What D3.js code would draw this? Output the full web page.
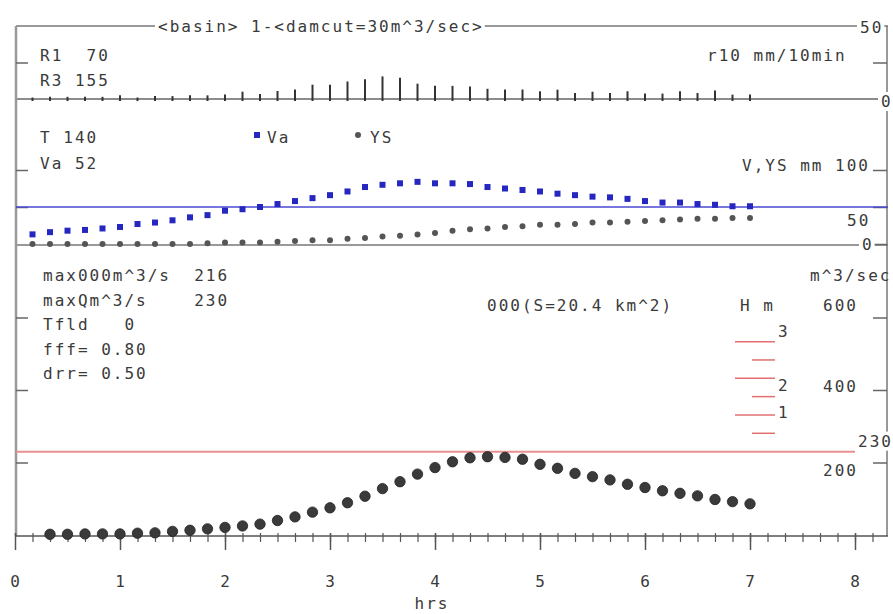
<!DOCTYPE html>
<html>
<head>
<meta charset="utf-8">
<script src="https://cdn.jsdelivr.net/npm/d3@7"></script>
<style>
  body { margin: 0; background: #fff; }
  svg text { font-family: "DejaVu Sans Mono", monospace; font-size: 16px; fill: #3a3a3a; letter-spacing: 2px; white-space: pre; }
</style>
</head>
<body>
<script>
// time steps (minutes from start), 10-min rain / Va / YS series
var minutes = [10,20,30,40,50,60,70,80,90,100,110,120,130,140,150,160,170,180,190,200,210,
               220,230,240,250,260,270,280,290,300,310,320,330,340,350,360,370,380,390,400,410,420];

// rainfall r10 mm/10min
var rain = [1.0,1.5,1.5,1.5,1.5,2.5,1.0,2.0,2.0,2.5,2.5,3.0,5.0,3.5,5.5,6.5,9.8,9.8,12.0,13.5,15.5,
            14.5,10.5,9.0,9.0,8.5,7.0,6.5,6.5,5.3,6.4,4.1,5.0,4.1,5.3,3.7,3.7,5.3,4.1,5.9,3.0,3.0];

// Va and YS (mm)
var va = [13,16,18,19,21,23,27,29,32,36,39,45,47,50,54,58,62,66,71,77,80,
          82,84,82,82,81,77,75,73,71,68,66,64,63,61,58,56,56,54,53,51,51];
var ys = [0,0,0,0,0,0,0,0,0,0,1,2,2,2,3,4,5,5,7,8,10,
          11,13,15,18,20,21,23,24,26,26,27,29,29,30,31,32,33,34,34,35,35];

// discharge Q m^3/sec (starts at 20 min)
var qMinutes = minutes.slice(1);
var discharge = [2,2,3,3,3,5,6,10,13,17,21,25,30,40,50,63,75,89,107,128,147,168,186,202,
                 213,216,214,209,195,184,170,161,152,140,131,122,115,108,98,92,86];

// axis ticks / labels
var hourTicks = [0,1,2,3,4,5,6,7,8];
var rainTicks = [0,25,50];
var vTicks = [0,50,100];
var qTicks = [200,400,600];
var hLevels = [0.5,1,1.5,2,2.5,3];
var hLabels = [1,2,3];
var qLimit = 230;
var vLine = 50;

var title = "<basin> 1-<damcut=30m^3/sec>";
var topNotes = ["R1  70", "R3 155"];
var midNotes = ["T 140", "Va 52"];
var lowNotes = ["max000m^3/s  216", "maxQm^3/s    230", "Tfld   0", "fff= 0.80", "drr= 0.50"];

var svgWidth = 893, svgHeight = 614;
var svg = d3.select("body").append("svg")
  .attr("width", svgWidth).attr("height", svgHeight);
svg.append("rect").attr("width", svgWidth).attr("height", svgHeight).attr("fill", "#fff");

var left = 16, right = 888;

// scales
var x = d3.scaleLinear().domain([0, 8]).range([15, 855]);
var yR = d3.scaleLinear().domain([0, 50]).range([99, 26]);
var yV = d3.scaleLinear().domain([0, 100]).range([244, 170]);
var yQ = d3.scaleLinear().domain([0, 800]).range([535, 245]);
var yH = d3.scaleLinear().domain([0, 3]).range([yQ(qLimit), yQ(qLimit) - 110]);

function hline(y, x1, x2, color, w) {
  svg.append("line").attr("x1", x1).attr("x2", x2).attr("y1", y).attr("y2", y)
    .attr("stroke", color).attr("stroke-width", w);
}
// text; halo = white box behind it so frame lines break around the text
function label(txt, xx, yy, anchor, halo) {
  var t = svg.append("text").attr("x", xx).attr("y", yy)
    .attr("text-anchor", anchor || "start").text(txt);
  if (halo) {
    var b = t.node().getBBox();
    svg.insert("rect", function() { return t.node(); })
      .attr("x", b.x - 3).attr("y", b.y).attr("width", b.width + 4).attr("height", b.height)
      .attr("fill", "#fff");
  }
  return t;
}

// frame
hline(26, left, right, "#777", 1.5);
hline(yR(0), left, right, "#666", 1.5);
hline(245, left, right, "#777", 1.5);
svg.append("line").attr("x1", left).attr("x2", left).attr("y1", 26).attr("y2", 536)
  .attr("stroke", "#999").attr("stroke-width", 2.5);
svg.append("line").attr("x1", 887).attr("x2", 887).attr("y1", 26).attr("y2", 536)
  .attr("stroke", "#777").attr("stroke-width", 1.5);

// right / left ticks
function sideTicks(scale, vals, side) {
  var ax = side == "right" ? d3.axisLeft(scale) : d3.axisRight(scale);
  ax.tickValues(vals).tickSize(side == "right" ? 14 : 12).tickFormat("");
  var g = svg.append("g").attr("transform", "translate(" + (side == "right" ? 887 : left) + ",0)").call(ax);
  g.select(".domain").remove();
  g.selectAll("line").attr("stroke", "#666").attr("stroke-width", 1.5);
}
sideTicks(yR, [25], "right");
sideTicks(yR, [25], "left");
sideTicks(yV, vTicks, "right");
sideTicks(yV, [50, 100], "left");
sideTicks(yQ, qTicks, "right");
sideTicks(yQ, qTicks, "left");

// reference lines
hline(yV(vLine), left, right, "#4848d0", 1.5);
hline(yQ(qLimit), left, 855, "#e89090", 2);

// title and right labels
label(title, 158, 32, "start", true);
label(String(rainTicks[2]), 860, 33, "start", true);
label(String(rainTicks[0]), 881, 107, "start", true);
label("r10 mm/10min", 707, 61);
label("V,YS mm " + vTicks[2], 742, 171);
label(String(vTicks[1]), 847, 226);
label(String(vTicks[0]), 862, 250, "start", true);
label("m^3/sec", 810, 281);
var qDy = [13.5, 2, -6.5];
qTicks.forEach(function(v, i) { label(String(v), 823, yQ(v) + qDy[i]); });
label(String(qLimit), 858, yQ(qLimit) - 5, "start", true);

// notes
topNotes.forEach(function(s, i) { label(s, 40, 61 + i * 25); });
midNotes.forEach(function(s, i) { label(s, 40, 143 + i * 26); });
lowNotes.forEach(function(s, i) { label(s, 43, 281 + i * 24.5); });
label("000(S=20.4 km^2)", 487, 311);
label("H m", 740, 311);

// legend
svg.append("rect").attr("x", 254).attr("y", 132).attr("width", 6).attr("height", 6).attr("fill", "#2626c0");
label("Va", 267, 143);
svg.append("circle").attr("cx", 358).attr("cy", 135).attr("r", 3).attr("fill", "#555");
label("YS", 370, 143);

// H gauge marks
hLevels.forEach(function(h) {
  var whole = h % 1 == 0;
  hline(yH(h), whole ? 735 : 752, 775, "#e07070", 1.5);
});
var hDy = [3.5, 13, -5];
hLabels.forEach(function(h, i) { label(String(h), 778, yH(h) + hDy[i]); });

// x axis
hline(536, left, right, "#555", 1.5);
var minorTicks = d3.range(1, 50).map(function(i) { return i / 6; }).filter(function(v) { return v <= 8.3; });
var gMinor = svg.append("g").attr("transform", "translate(0,533)")
  .call(d3.axisBottom(x).tickValues(minorTicks).tickSize(9).tickFormat(""));
gMinor.select(".domain").remove();
gMinor.selectAll("line").attr("stroke", "#555").attr("stroke-width", 1.2);
var gMajor = svg.append("g").attr("transform", "translate(0,533)")
  .call(d3.axisBottom(x).tickValues(hourTicks).tickSize(17).tickFormat(""));
gMajor.select(".domain").remove();
gMajor.selectAll("line").attr("stroke", "#555").attr("stroke-width", 1.5);
hourTicks.forEach(function(h) { label(String(h), x(h) + 1, 587, "middle"); });
label("hrs", 432, 609, "middle");

// rainfall bars
svg.append("g").selectAll("line").data(rain).enter().append("line")
  .attr("x1", function(d, i) { return x(minutes[i] / 60); })
  .attr("x2", function(d, i) { return x(minutes[i] / 60); })
  .attr("y1", yR(0) + 2)
  .attr("y2", function(d) { return yR(d); })
  .attr("stroke", "#333").attr("stroke-width", 2);

// YS dots
svg.append("g").selectAll("circle").data(ys).enter().append("circle")
  .attr("cx", function(d, i) { return x(minutes[i] / 60); })
  .attr("cy", function(d) { return yV(d); })
  .attr("r", 3).attr("fill", "#555");

// Va squares
svg.append("g").selectAll("rect").data(va).enter().append("rect")
  .attr("x", function(d, i) { return x(minutes[i] / 60) - 3; })
  .attr("y", function(d) { return yV(d) - 3; })
  .attr("width", 6).attr("height", 6).attr("fill", "#2626c0");

// discharge dots
svg.append("g").selectAll("circle").data(discharge).enter().append("circle")
  .attr("cx", function(d, i) { return x(qMinutes[i] / 60); })
  .attr("cy", function(d) { return yQ(d); })
  .attr("r", 5.2).attr("fill", "#3a3a3a").attr("stroke", "#222").attr("stroke-width", 0.8);
</script>
</body>
</html>
